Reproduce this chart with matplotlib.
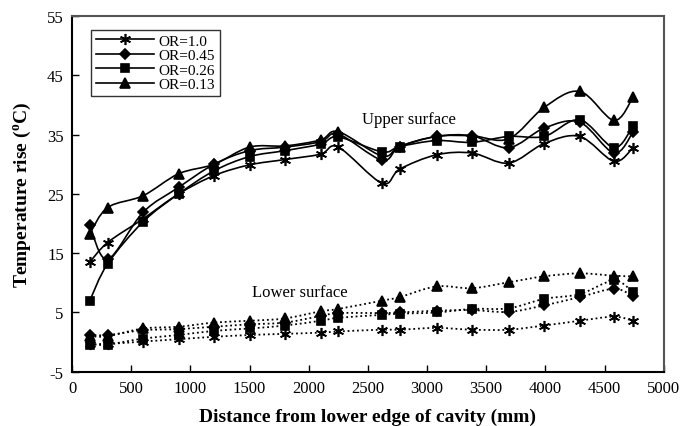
import numpy as np
import matplotlib
matplotlib.use("Agg")
import matplotlib.pyplot as plt
from matplotlib.path import Path
from matplotlib.patches import PathPatch
from matplotlib.lines import Line2D

plt.rcParams['font.family'] = ['Liberation Serif', 'DejaVu Serif']
plt.rcParams['mathtext.default'] = 'regular'
plt.rcParams['axes.unicode_minus'] = False

# measuring stations along the cavity (mm)
dist = [150, 300, 600, 900, 1200, 1500, 1800, 2100, 2250, 2620, 2770,
        3080, 3380, 3690, 3990, 4290, 4580, 4740]

labels = ['OR=1.0', 'OR=0.45', 'OR=0.26', 'OR=0.13']

# upper surface temperature rise (deg C)
up_10 = [13.5, 16.8, 20.8, 25.0, 28.1, 29.9, 30.8, 31.7, 32.9, 26.8, 29.2,
         31.6, 31.9, 30.2, 33.5, 34.7, 30.5, 32.8]
up_045 = [19.7, 14.0, 21.9, 26.1, 30.0, 32.3, 32.9, 33.8, 35.1, 30.7, 33.0,
          34.7, 34.8, 32.8, 36.1, 37.1, 31.9, 35.4]
up_026 = [7.0, 13.2, 20.3, 25.0, 28.9, 31.3, 32.3, 33.4, 34.6, 32.1, 33.0,
          34.0, 33.7, 34.7, 34.7, 37.5, 32.8, 36.5]
up_013 = [18.3, 22.7, 24.7, 28.4, 30.0, 32.9, 33.1, 34.1, 35.5, 31.4, 33.0,
          34.7, 34.8, 34.3, 39.6, 42.3, 37.4, 41.3]

# lower surface temperature rise (deg C)
lo_10 = [-0.3, -0.3, 0.1, 0.5, 0.9, 1.2, 1.4, 1.6, 1.8, 2.1, 2.1,
         2.4, 2.1, 2.1, 2.8, 3.6, 4.3, 3.6]
lo_045 = [1.2, 1.2, 2.0, 2.2, 2.6, 3.0, 3.3, 4.4, 4.9, 4.9, 5.0,
          5.3, 5.4, 5.1, 6.2, 7.6, 9.0, 7.8]
lo_026 = [-0.4, -0.4, 0.6, 1.2, 1.9, 2.3, 2.8, 3.6, 4.1, 4.6, 4.8,
          5.0, 5.6, 5.7, 7.3, 8.1, 10.4, 8.4]
lo_013 = [1.0, 1.0, 2.3, 2.6, 3.3, 3.6, 4.0, 5.2, 5.6, 7.0, 7.6,
          9.4, 9.1, 10.1, 11.1, 11.6, 11.2, 11.1]

upper = [up_10, up_045, up_026, up_013]
lower = [lo_10, lo_045, lo_026, lo_013]

markers = [(6, 2, 0), 'D', 's', '^']
msizes = [8, 5, 5.5, 7]


def smooth_path(x, y, t=1.0 / 6):
    # spline-like bezier through the points, like a "smoothed line" chart
    p = np.column_stack([x, y]).astype(float)
    n = len(p)
    verts = [p[0]]
    codes = [Path.MOVETO]
    for i in range(n - 1):
        pm = p[i - 1] if i > 0 else p[i]
        pn = p[i + 2] if i + 2 < n else p[i + 1]
        c1 = p[i] + (p[i + 1] - pm) * t
        c2 = p[i + 1] - (pn - p[i]) * t
        verts += [c1, c2, p[i + 1]]
        codes += [Path.CURVE4] * 3
    return Path(verts, codes)


fig = plt.figure(figsize=(6.8, 4.27), dpi=100)
ax = fig.add_axes([0.106, 0.127, 0.870, 0.833])

for ys, m, ms in zip(upper, markers, msizes):
    ax.add_patch(PathPatch(smooth_path(dist, ys), fill=False, ec='black', lw=1.2))
    ax.plot(dist, ys, ls='none', marker=m, ms=ms, color='black', mew=1.2)

for ys, m, ms in zip(lower, markers, msizes):
    ax.add_patch(PathPatch(smooth_path(dist, ys), fill=False, ec='black', lw=1.3,
                           ls=(0, (1, 1.6))))
    ax.plot(dist, ys, ls='none', marker=m, ms=ms, color='black', mew=1.2)

handles = [Line2D([], [], color='black', lw=1.2, marker=m, ms=ms, mew=1.2)
           for m, ms in zip(markers, msizes)]
leg = ax.legend(handles, labels, loc='upper left', bbox_to_anchor=(0.025, 0.975),
                fontsize=11, frameon=True, fancybox=False, edgecolor='black',
                handlelength=3.8, handletextpad=0.3, labelspacing=0.05,
                borderpad=0.3, borderaxespad=0.3)
leg.get_frame().set_linewidth(1.0)

ax.text(2450, 37.6, 'Upper surface', fontsize=12, va='center')
ax.text(1520, 8.5, 'Lower surface', fontsize=12, va='center')

ax.set_xlim(0, 5000)
ax.set_ylim(-5, 55)
ax.set_xticks(np.arange(0, 5001, 500))
ax.set_yticks(np.arange(-5, 56, 10))
ax.tick_params(direction='in', length=5, width=1, labelsize=12, pad=6)

for s in ['left', 'bottom']:
    ax.spines[s].set_linewidth(1.5)
for s in ['top', 'right']:
    ax.spines[s].set_linewidth(1.5)
    ax.spines[s].set_color('#555555')

ax.set_xlabel('Distance from lower edge of cavity (mm)', fontsize=14,
              fontweight='bold', labelpad=8)
ax.set_ylabel('Temperature rise ($^{o}$C)', fontsize=14, fontweight='bold',
              labelpad=10)

fig.savefig('out.png', dpi=100)
